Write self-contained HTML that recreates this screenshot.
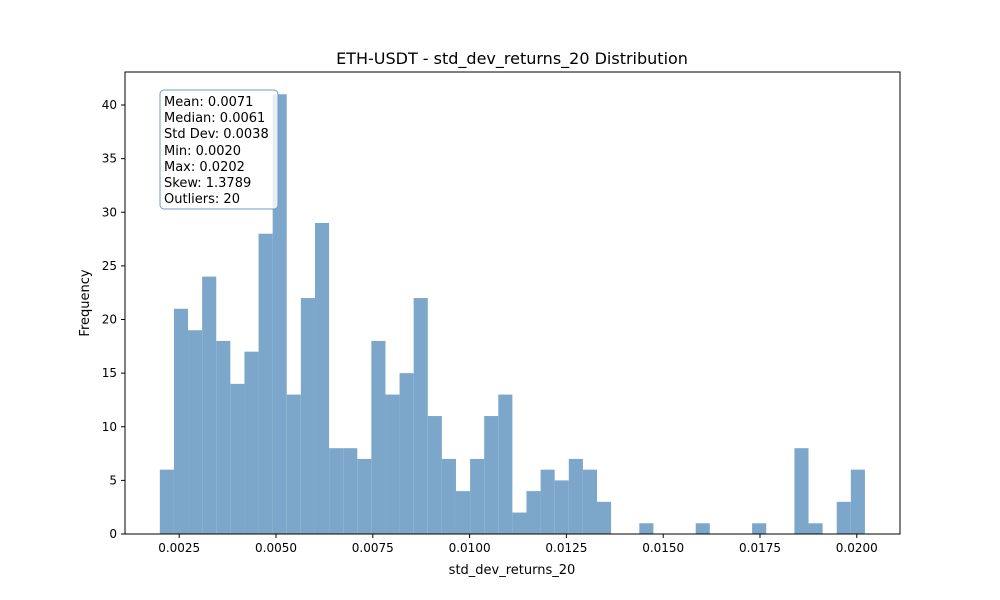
<!DOCTYPE html>
<html><head><meta charset="utf-8"><style>body{margin:0;background:#fff}svg{display:block;font-family:"DejaVu Sans","Liberation Sans",sans-serif}</style></head>
<body>
<svg id="chart" width="1000" height="600">
<text x="512" y="64" font-size="16" text-anchor="middle">ETH-USDT - std_dev_returns_20 Distribution</text>
<g id="bars"></g>
<rect x="125" y="72" width="775" height="462" fill="none" stroke="#000" stroke-width="1"/>
<g id="axes" font-size="12"></g>
<text x="512" y="574" font-size="13" text-anchor="middle">std_dev_returns_20</text>
<text transform="translate(89,303) rotate(-90)" font-size="13" text-anchor="middle">Frequency</text>
<g>
<rect x="160" y="90" width="118" height="119" rx="4" fill="#fff" fill-opacity="0.82" stroke="#6c9bc6" stroke-width="1"/>
<text font-size="13" fill="#000">
<tspan x="164" y="106">Mean: 0.0071</tspan>
<tspan x="164" y="122">Median: 0.0061</tspan>
<tspan x="164" y="138">Std Dev: 0.0038</tspan>
<tspan x="164" y="155">Min: 0.0020</tspan>
<tspan x="164" y="171">Max: 0.0202</tspan>
<tspan x="164" y="187">Skew: 1.3789</tspan>
<tspan x="164" y="203">Outliers: 20</tspan>
</text>
</g>
</svg>
<script>
const binStart = 0.0020;
const binEnd = 0.02021;
const counts = [6,21,19,24,18,14,17,28,41,13,22,29,8,8,7,18,13,15,22,11,7,4,7,11,13,2,4,6,5,7,6,3,0,0,1,0,0,0,1,0,0,0,1,0,0,8,1,0,3,6];
const xTicks = [0.0025,0.0050,0.0075,0.0100,0.0125,0.0150,0.0175,0.0200];
const xTickLabels = ["0.0025","0.0050","0.0075","0.0100","0.0125","0.0150","0.0175","0.0200"];
const yTicks = [0,5,10,15,20,25,30,35,40];
const NS="http://www.w3.org/2000/svg";
const x = v => 179.2 + (v-0.0025)*38720;
const y = v => 534 - v*10.725;
const bars=document.getElementById('bars'), axes=document.getElementById('axes');
const w=(binEnd-binStart)/counts.length;
counts.forEach((c,i)=>{
 if(!c) return;
 const r=document.createElementNS(NS,'rect');
 const x0=x(binStart+i*w), x1=x(binStart+(i+1)*w);
 r.setAttribute('x',x0);r.setAttribute('width',x1-x0);
 r.setAttribute('y',y(c));r.setAttribute('height',y(0)-y(c));
 r.setAttribute('fill','#7da7ca');
 
 
 bars.appendChild(r);
});
xTicks.forEach((t,i)=>{
 const l=document.createElementNS(NS,'line');
 l.setAttribute('x1',x(t));l.setAttribute('x2',x(t));l.setAttribute('y1',534);l.setAttribute('y2',538);l.setAttribute('stroke','#000');
 
 
 axes.appendChild(l);
 const tx=document.createElementNS(NS,'text');
 tx.setAttribute('x',x(t));tx.setAttribute('y',552);tx.setAttribute('text-anchor','middle');tx.textContent=xTickLabels[i];
 
 
 axes.appendChild(tx);
});
yTicks.forEach(t=>{
 const l=document.createElementNS(NS,'line');
 l.setAttribute('x1',121);l.setAttribute('x2',125);l.setAttribute('y1',y(t));l.setAttribute('y2',y(t));l.setAttribute('stroke','#000');
 
 
 axes.appendChild(l);
 const tx=document.createElementNS(NS,'text');
 tx.setAttribute('x',117);tx.setAttribute('y',y(t)+4);tx.setAttribute('text-anchor','end');tx.textContent=t;
 
 
 axes.appendChild(tx);
});
</script>
</body></html>
